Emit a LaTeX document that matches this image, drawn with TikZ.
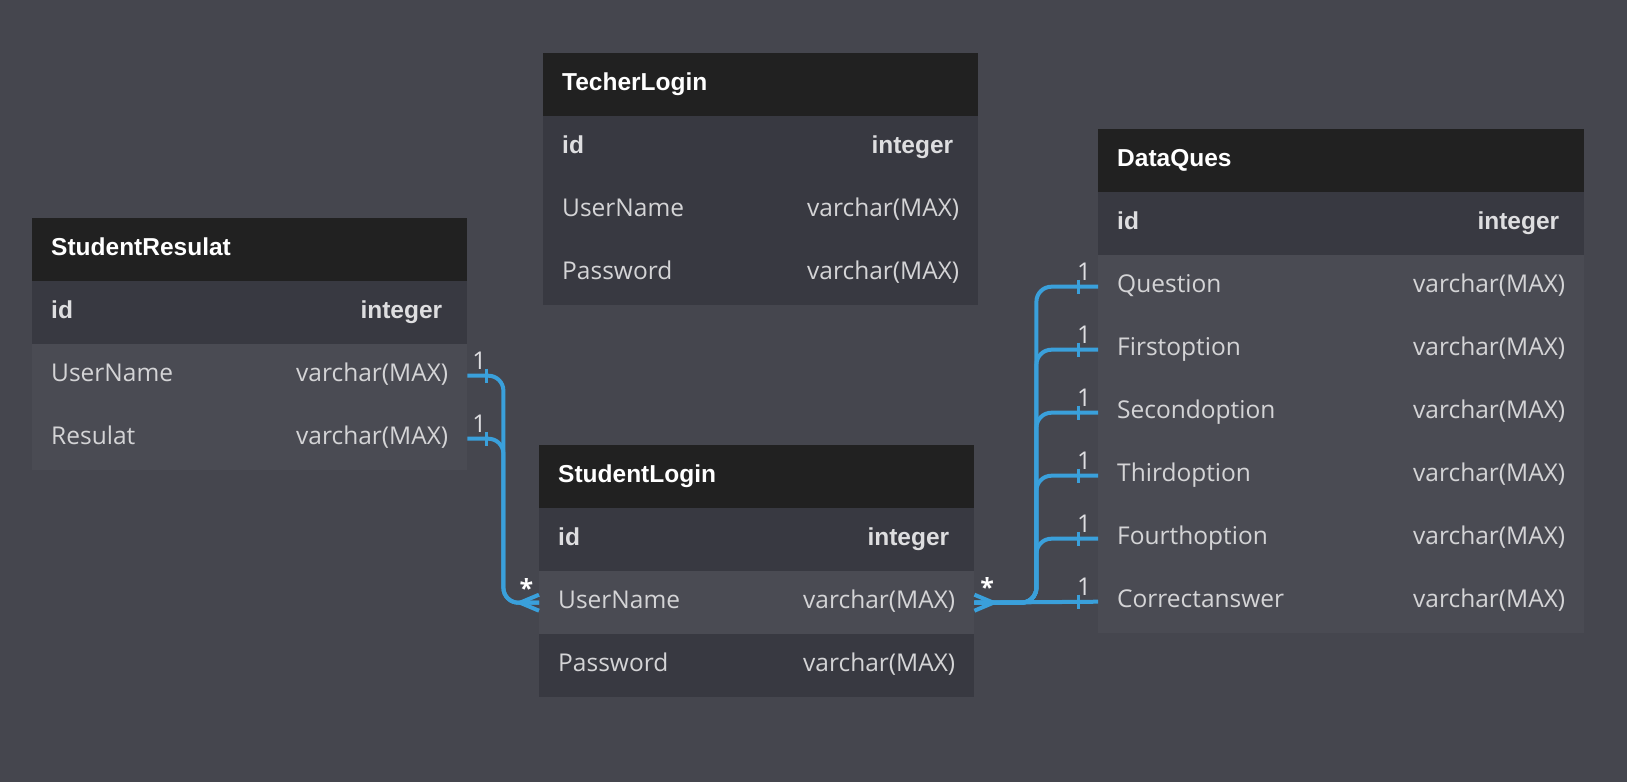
\documentclass[tikz,border=0pt]{standalone}
\usepackage{fontspec}
\setmainfont{Open Sans}
\newfontfamily\arialfont{Liberation Sans}
\definecolor{bgcol}{RGB}{69,70,78}
\definecolor{headcol}{RGB}{33,33,33}
\definecolor{darkcol}{RGB}{56,57,65}
\definecolor{lightcol}{RGB}{74,75,83}
\definecolor{linkcol}{RGB}{58,160,219}
\definecolor{fieldcol}{RGB}{212,212,214}
\definecolor{idcol}{RGB}{222,222,224}
\definecolor{cardcol}{RGB}{222,222,225}
\newcommand{\hdfont}{\arialfont\bfseries\fontsize{24.5}{29}\selectfont}
\newcommand{\fdfont}{\fontsize{24.5}{29}\selectfont}
\tikzset{
  tblrow/.style={anchor=north west, fill=darkcol, text=fieldcol, font=\fdfont,
    minimum width=435pt, minimum height=63pt, text width=397pt,
    inner xsep=19pt, inner ysep=0pt, text height=17.5pt, text depth=5.5pt, align=left},
  wide/.style={minimum width=486pt, text width=448pt},
  tblhead/.style={tblrow, fill=headcol, text=white, font=\hdfont},
  tblid/.style={tblrow, text=idcol, font=\hdfont},
  tblfield/.style={tblrow, fill=lightcol},
  relation/.style={draw=linkcol, line width=4pt},
  card/.style={inner sep=0pt, text height=17.5pt, text depth=0pt, text=cardcol,
    font=\fontsize{24.5}{25}\selectfont},
  manyend/.style={inner sep=0pt, anchor=base, text=white, font=\bfseries\fontsize{25}{25}\selectfont}
}
\begin{document}
\begin{tikzpicture}[x=1pt, y=-1pt]
    \fill[bgcol] (0,0) rectangle (1627,782);
    % StudentResulat
    \node[tblhead] (sr) at (32,218) {StudentResulat};
    \node[tblid] (sr-id) at (32,281) {id\hfill integer\hspace*{6pt}};
    \node[tblfield] (sr-user) at (32,344) {UserName\hfill varchar(MAX)};
    \node[tblfield] (sr-res) at (32,407) {Resulat\hfill varchar(MAX)};
    % TecherLogin
    \node[tblhead] (tl) at (543,53) {TecherLogin};
    \node[tblid] (tl-id) at (543,116) {id\hfill integer\hspace*{6pt}};
    \node[tblrow] (tl-user) at (543,179) {UserName\hfill varchar(MAX)};
    \node[tblrow] (tl-pass) at (543,242) {Password\hfill varchar(MAX)};
    % StudentLogin
    \node[tblhead] (sl) at (539,445) {StudentLogin};
    \node[tblid] (sl-id) at (539,508) {id\hfill integer\hspace*{6pt}};
    \node[tblfield] (sl-user) at (539,571) {UserName\hfill varchar(MAX)};
    \node[tblrow] (sl-pass) at (539,634) {Password\hfill varchar(MAX)};
    % DataQues
    \node[tblhead, wide] (dq) at (1098,129) {DataQues};
    \node[tblid, wide] (dq-id) at (1098,192) {id\hfill integer\hspace*{6pt}};
    \node[tblfield, wide] (dq-q) at (1098,255) {Question\hfill varchar(MAX)};
    \node[tblfield, wide] (dq-f) at (1098,318) {Firstoption\hfill varchar(MAX)};
    \node[tblfield, wide] (dq-s) at (1098,381) {Secondoption\hfill varchar(MAX)};
    \node[tblfield, wide] (dq-t) at (1098,444) {Thirdoption\hfill varchar(MAX)};
    \node[tblfield, wide] (dq-o) at (1098,507) {Fourthoption\hfill varchar(MAX)};
    \node[tblfield, wide] (dq-c) at (1098,570) {Correctanswer\hfill varchar(MAX)};

    % StudentResulat -> StudentLogin
    \path[draw, relation, rounded corners=15pt] (sr-user.east) -- ++(36,0) |- (sl-user.west);
    \path[draw, relation, rounded corners=15pt] (sr-res.east) -- ++(36,0) |- (sl-user.west);
    \path[draw, relation] ([yshift=8pt]sl-user.west) -- ([xshift=-19pt]sl-user.west) -- ([yshift=-8pt]sl-user.west);
    \foreach \r in {sr-user, sr-res} {
        \path[draw, relation, line width=3.5pt] ([xshift=19pt, yshift=7pt]\r.east) -- ([xshift=19pt, yshift=-7pt]\r.east);
        \node[card] (\r-one) at ([xshift=12pt, yshift=14.5pt]\r.east) {1};
    }
    \node[manyend] (sl-in) at ([xshift=-12.5pt, yshift=5pt]sl-user.west) {*};

    % StudentLogin -> DataQues
    \foreach \r in {dq-q, dq-f, dq-s, dq-t, dq-o}
        \path[draw, relation, rounded corners=15pt] (sl-user.east) -- ++(62,0) |- (\r.west);
    \path[draw, relation] (sl-user.east) -- (dq-c.west);
    \path[draw, relation] ([yshift=8pt]sl-user.east) -- ([xshift=19pt]sl-user.east) -- ([yshift=-8pt]sl-user.east);
    \foreach \r in {dq-q, dq-f, dq-s, dq-t, dq-o, dq-c} {
        \path[draw, relation, line width=3.5pt] ([xshift=-19.3pt, yshift=7pt]\r.west) -- ([xshift=-19.3pt, yshift=-7pt]\r.west);
        \node[card] (\r-one) at ([xshift=-14pt, yshift=14.5pt]\r.west) {1};
    }
    \node[manyend] (sl-out) at ([xshift=12.7pt, yshift=6pt]sl-user.east) {*};
\end{tikzpicture}
\end{document}
